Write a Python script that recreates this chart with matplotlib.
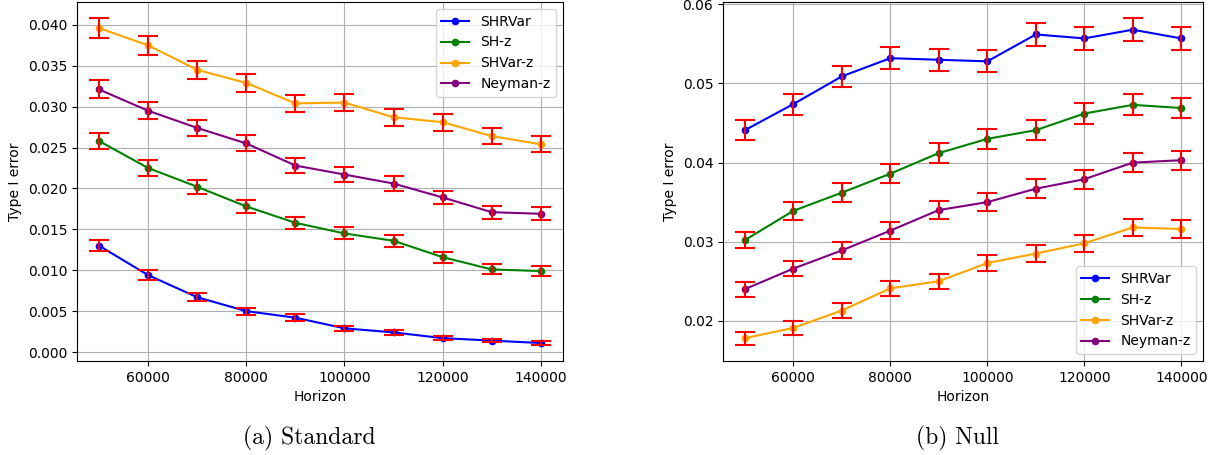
import matplotlib
matplotlib.use("Agg")
import matplotlib.pyplot as plt

horizon = [50000, 60000, 70000, 80000, 90000, 100000, 110000, 120000, 130000, 140000]
names = ["SHRVar", "SH-z", "SHVar-z", "Neyman-z"]
colors = ["blue", "green", "orange", "purple"]

# (a) Standard
std_shrvar = [0.0130, 0.0094, 0.0067, 0.0050, 0.0042, 0.0029, 0.0024, 0.0017, 0.0014, 0.0011]
std_shz = [0.0258, 0.0225, 0.0202, 0.0178, 0.0158, 0.0145, 0.0136, 0.0116, 0.0101, 0.0099]
std_shvarz = [0.0396, 0.0375, 0.0345, 0.0329, 0.0304, 0.0305, 0.0287, 0.0281, 0.0264, 0.0254]
std_neyman = [0.0321, 0.0295, 0.0274, 0.0255, 0.0228, 0.0217, 0.0206, 0.0189, 0.0171, 0.0169]
std_err_shrvar = [0.0007, 0.0006, 0.0005, 0.00044, 0.0004, 0.00033, 0.0003, 0.00026, 0.00023, 0.0002]
std_err_shz = [0.00098, 0.00092, 0.00087, 0.00082, 0.00077, 0.00074, 0.00072, 0.00066, 0.00062, 0.00061]
std_err_shvarz = [0.0012, 0.00118, 0.00113, 0.0011, 0.00106, 0.00106, 0.00104, 0.00102, 0.001, 0.00097]
std_err_neyman = [0.0011, 0.00105, 0.00101, 0.00098, 0.00092, 0.0009, 0.00088, 0.00084, 0.0008, 0.0008]

# (b) Null
null_shrvar = [0.0441, 0.0474, 0.0509, 0.0532, 0.0530, 0.0528, 0.0562, 0.0557, 0.0568, 0.0557]
null_shz = [0.0302, 0.0339, 0.0362, 0.0386, 0.0412, 0.0430, 0.0441, 0.0462, 0.0473, 0.0469]
null_shvarz = [0.0178, 0.0191, 0.0213, 0.0241, 0.0250, 0.0273, 0.0285, 0.0298, 0.0318, 0.0316]
null_neyman = [0.0240, 0.0266, 0.0289, 0.0314, 0.0340, 0.0350, 0.0367, 0.0379, 0.0400, 0.0403]
null_err_shrvar = [0.00127, 0.00132, 0.00136, 0.00139, 0.00139, 0.00139, 0.00143, 0.00142, 0.00144, 0.00142]
null_err_shz = [0.00106, 0.00112, 0.00116, 0.00119, 0.00123, 0.00126, 0.00127, 0.0013, 0.00132, 0.00131]
null_err_shvarz = [0.00082, 0.00085, 0.0009, 0.00095, 0.00097, 0.00101, 0.00103, 0.00105, 0.00109, 0.00108]
null_err_neyman = [0.00095, 0.001, 0.00104, 0.00108, 0.00112, 0.00114, 0.00117, 0.00118, 0.00122, 0.00122]

panels = [
    ([std_shrvar, std_shz, std_shvarz, std_neyman],
     [std_err_shrvar, std_err_shz, std_err_shvarz, std_err_neyman], "upper right", "(a) Standard"),
    ([null_shrvar, null_shz, null_shvarz, null_neyman],
     [null_err_shrvar, null_err_shz, null_err_shvarz, null_err_neyman], "lower right", "(b) Null"),
]

fig = plt.figure(figsize=(12.14, 4.55), dpi=100)
rects = [[0.0634, 0.2066, 0.4003, 0.789], [0.5956, 0.2066, 0.3954, 0.789]]
caption_x = [0.2545, 0.789]

for rect, cx, (series, errs, loc, caption) in zip(rects, caption_x, panels):
    ax = fig.add_axes(rect)
    for name, c, y in zip(names, colors, series):
        ax.plot(horizon, y, marker="o", markersize=4.5, color=c, label=name)
    # error bars go on top of the lines
    for y, e in zip(series, errs):
        ax.errorbar(horizon, y, yerr=e, fmt="none", ecolor="red", capsize=7.5,
                    elinewidth=1.5, capthick=1.5)
    ax.set_xlabel("Horizon")
    ax.set_ylabel("Type I error")
    ax.set_xticks([60000, 80000, 100000, 120000, 140000])
    ax.grid(True)
    ax.legend(loc=loc)
    fig.text(cx, 0.037, caption, ha="center", va="center",
             family="cmr10", fontsize=17)

plt.savefig("out.png", dpi=100)
